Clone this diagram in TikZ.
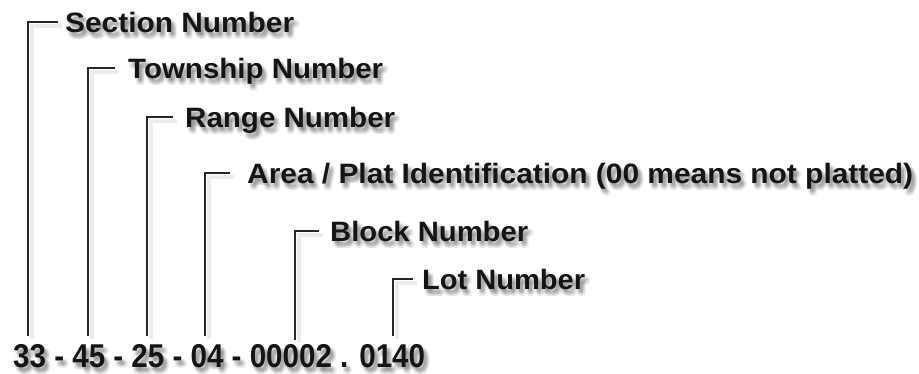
\documentclass[tikz,border=0pt]{standalone}
\usepackage{fontspec}
\setmainfont{Liberation Sans}
\usetikzlibrary{calc}
\definecolor{ink}{HTML}{141414}
\definecolor{wire}{HTML}{262626}
\newlength\fitlen
\newcommand\fitw[2]{\settowidth\fitlen{#2}\pgfmathsetmacro\fitsx{#1/\fitlen}\scalebox{\fitsx}[1]{#2}}
\tikzset{
  labeltext/.style={font=\bfseries\fontsize{28}{30}\selectfont, text=ink, inner sep=0pt, anchor=base west},
  numtext/.style={font=\bfseries\fontsize{33}{35}\selectfont, text=ink, inner sep=0pt, anchor=base west},
  shadowtext/.style={text=black, opacity=0.055},
  wireline/.style={draw=wire, line width=2.2pt},
  wireshadow/.style={draw=black, opacity=0.08, line width=3.5pt},
}
% name, x, baseline y, width, text, style
\newcommand\shlabel[6]{%
  \foreach \dx/\dy [count=\k] in {1/3,3/2,5/3,6/5,5/7,3/7,1/6,3/5,4/4,2/4}{
    \node[#6, shadowtext, name=#1sh\k] at (#2+\dx, #3+\dy) {\fitw{#4}{#5}};
  }
  \node[#6, name=#1] at (#2,#3) {\fitw{#4}{#5}};
}
% coordinate, label node, gap
\newcommand\bracket[3]{%
  \draw[wireshadow] ([xshift=4pt,yshift=-3pt]#1) |- ([xshift=4pt-#3pt, yshift=6pt]#2.base west);
  \draw[wireline] (#1) |- ([xshift=-#3pt, yshift=10pt]#2.base west);
}
\begin{document}
\begin{tikzpicture}[x=1pt, y=-1pt]
  \fill[white] (0,0) rectangle (919,373);
  \useasboundingbox (0,0) rectangle (919,373);

  \shlabel{sec}{65}{32}{229}{Section Number}{labeltext}
  \shlabel{town}{128}{78}{255}{Township Number}{labeltext}
  \shlabel{range}{185}{127}{210}{Range Number}{labeltext}
  \shlabel{area}{247}{183}{666}{Area / Plat Identification (00 means not platted)}{labeltext}
  \shlabel{block}{330}{241}{198}{Block Number}{labeltext}
  \shlabel{lot}{422}{289}{163}{Lot Number}{labeltext}
  \shlabel{num}{13}{367}{412}{33 - 45 - 25 - 04 - 00002 . 0140}{numtext}

  \coordinate (c1) at (28,336);
  \coordinate (c2) at (88,336);
  \coordinate (c3) at (147,336);
  \coordinate (c4) at (205,336);
  \coordinate (c5) at (295,340);
  \coordinate (c6) at (393,336);

  \bracket{c1}{sec}{7}
  \bracket{c2}{town}{13}
  \bracket{c3}{range}{12}
  \bracket{c4}{area}{17}
  \bracket{c5}{block}{11}
  \bracket{c6}{lot}{9}
\end{tikzpicture}
\end{document}
